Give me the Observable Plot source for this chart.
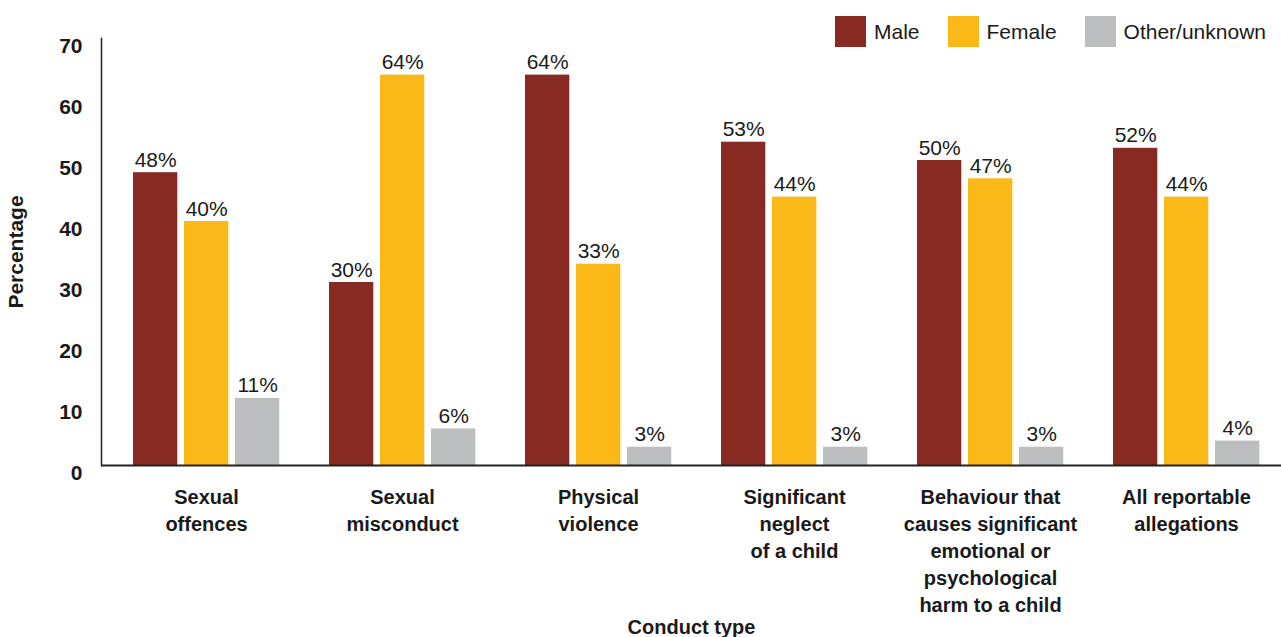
<!DOCTYPE html>
<html>
<head>
<meta charset="utf-8">
<script src="https://cdn.jsdelivr.net/npm/d3@7"></script>
<script src="https://cdn.jsdelivr.net/npm/@observablehq/plot@0.6"></script>
<style>
  html, body { margin: 0; padding: 0; background: #fff; }
  body { font-family: "Liberation Sans", Arial, sans-serif; color: #1a1a1a; }
  #wrap { position: relative; width: 1281px; height: 637px; overflow: hidden; }
  #legend { position: absolute; left: 835px; top: 16px; display: flex; gap: 28px; align-items: center; }
  .item { display: flex; align-items: center; gap: 8px; font-size: 21px; }
  .sw { width: 31px; height: 31px; display: inline-block; }
  #chart svg { display: block; }
</style>
</head>
<body>
<div id="wrap">
  <div id="chart"></div>
  <div id="legend"></div>
</div>
<script>
const categories = [
  "Sexual offences",
  "Sexual misconduct",
  "Physical violence",
  "Significant neglect of a child",
  "Behaviour that causes significant emotional or psychological harm to a child",
  "All reportable allegations"
];
const categoryLabels = [
  "Sexual\noffences",
  "Sexual\nmisconduct",
  "Physical\nviolence",
  "Significant\nneglect\nof a child",
  "Behaviour that\ncauses significant\nemotional or\npsychological\nharm to a child",
  "All reportable\nallegations"
];
const series = ["Male", "Female", "Other/unknown"];
const seriesColors = ["#862a22", "#fbb819", "#bdbec0"];
const male = [48, 30, 64, 53, 50, 52];
const female = [40, 64, 33, 44, 47, 44];
const other = [11, 6, 3, 3, 3, 4];
const yTicks = [0, 10, 20, 30, 40, 50, 60, 70];

const seriesValues = [male, female, other];
const labelOf = new Map(categories.map((c, i) => [c, categoryLabels[i]]));

// per-series placement inside each category band (style only)
const bandStyle = [
  {insetLeft: 30, insetRight: 121.7, dx: -45.8},
  {insetLeft: 81, insetRight: 70.7, dx: 5.2},
  {insetLeft: 132, insetRight: 19.7, dx: 56.2}
];

const marks = [];
series.forEach((s, si) => {
  const rows = categories.map((c, i) => ({cat: c, series: s, value: seriesValues[si][i]}));
  marks.push(Plot.barY(rows, {
    x: "cat", y: "value", fill: seriesColors[si],
    insetLeft: bandStyle[si].insetLeft, insetRight: bandStyle[si].insetRight
  }));
  marks.push(Plot.text(rows, {
    x: "cat", y: "value", text: d => d.value + "%",
    dx: bandStyle[si].dx, dy: -6, lineAnchor: "bottom",
    fontSize: 21, fill: "#1a1a1a"
  }));
});

const chart = Plot.plot({
  width: 1281,
  height: 637,
  marginTop: 38,
  marginBottom: 172,
  marginLeft: 101,
  marginRight: 0,
  style: {fontFamily: "'Liberation Sans', Arial, sans-serif", color: "#1a1a1a", background: "#fff"},
  x: {type: "band", domain: categories, paddingInner: 0, paddingOuter: 0},
  y: {domain: [0, 70]},
  marks: [
    ...marks,
    Plot.axisY({
      ticks: yTicks, tickSize: 0, tickPadding: 19, dy: 7.5,
      fontSize: 21, fontWeight: "bold",
      label: "Percentage", labelAnchor: "center", labelOffset: 93, labelArrow: "none"
    }),
    Plot.axisX({
      tickSize: 0, tickPadding: 19, dx: 5,
      fontSize: 20, fontWeight: "bold", lineHeight: 1.35,
      tickFormat: d => labelOf.get(d),
      label: "Conduct type", labelAnchor: "center", labelOffset: 168, labelArrow: "none"
    }),
    Plot.frame({anchor: "left", stroke: "#222", strokeWidth: 1.5}),
    Plot.ruleY([0], {stroke: "#222", strokeWidth: 2})
  ]
});
document.getElementById("chart").appendChild(chart);

const legend = document.getElementById("legend");
series.forEach((s, i) => {
  const item = document.createElement("div");
  item.className = "item";
  const sw = document.createElement("span");
  sw.className = "sw";
  sw.style.background = seriesColors[i];
  const t = document.createElement("span");
  t.textContent = s;
  item.appendChild(sw);
  item.appendChild(t);
  legend.appendChild(item);
});
</script>
</body>
</html>
